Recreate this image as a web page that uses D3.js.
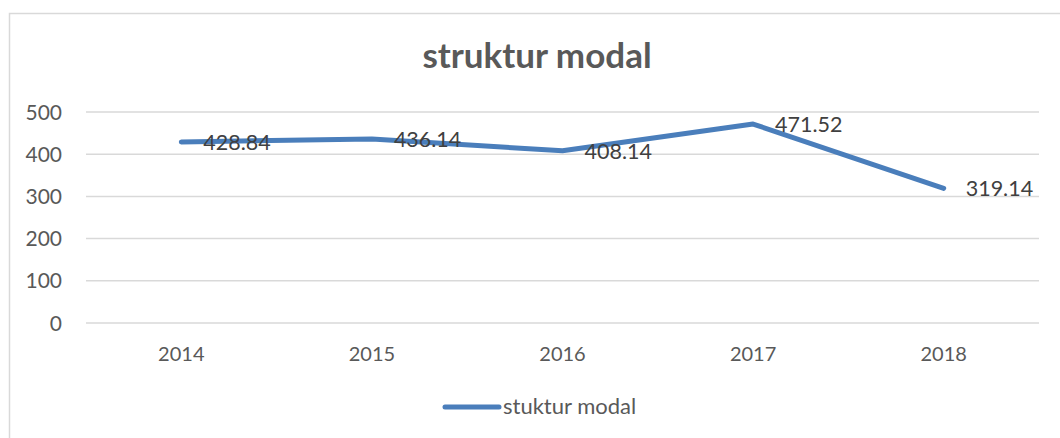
<html>
<head>
<meta charset="utf-8">
<style>
  body { margin: 0; background: #fff; }
  text { font-family: Lato, "Open Sans", sans-serif; }
</style>
</head>
<body>
<svg width="1060" height="438"></svg>
<script src="https://cdn.jsdelivr.net/npm/d3@7"></script>
<script>
const years = ["2014", "2015", "2016", "2017", "2018"]
const values = [428.84, 436.14, 408.14, 471.52, 319.14]
const yTicks = [0, 100, 200, 300, 400, 500]
const chartTitle = "struktur modal"
const seriesName = "stuktur modal"

const svg = d3.select("svg")

// chart frame (only left/top visible in the crop)
svg.append("rect").attr("x",9.5).attr("y",13.5).attr("width",1100).attr("height",500)
  .attr("fill","none").attr("stroke","#d9d9d9").attr("stroke-width",1.5)

const x = d3.scaleBand().domain(years).range([86, 1039])
const y = d3.scaleLinear().domain([0, 500]).range([323, 112])

// gridlines
svg.append("g").selectAll("line").data(yTicks).join("line")
  .attr("x1",86).attr("x2",1039)
  .attr("y1",d => y(d)).attr("y2",d => y(d))
  .attr("stroke","#d9d9d9").attr("stroke-width",1.5)

// y axis labels
svg.append("g").selectAll("text").data(yTicks).join("text")
  .attr("x",62).attr("y",d => y(d)).attr("dy","0.36em")
  .attr("text-anchor","end").attr("font-size",21).attr("fill","#595959")
  .text(d => d)

// x axis labels
svg.append("g").selectAll("text").data(years).join("text")
  .attr("x",d => x(d) + x.bandwidth()/2).attr("y",361)
  .attr("text-anchor","middle").attr("font-size",20).attr("fill","#595959")
  .text(d => d)

// title
svg.append("text").attr("x",537).attr("y",68).attr("text-anchor","middle")
  .attr("font-size",35).attr("font-weight","bold").attr("fill","#595959")
  .text(chartTitle)

const pts = years.map((yr, i) => [x(yr) + x.bandwidth()/2, y(values[i])])

svg.append("path").attr("d", d3.line()(pts))
  .attr("fill","none").attr("stroke","#4a7ebb").attr("stroke-width",5)
  .attr("stroke-linecap","round").attr("stroke-linejoin","round")

// data labels, to the right of each point
svg.append("g").selectAll("text").data(values).join("text")
  .attr("x",(d,i) => pts[i][0] + 22).attr("y",(d,i) => pts[i][1]).attr("dy","0.36em")
  .attr("font-size",21.5).attr("fill","#404040")
  .text(d => d.toFixed(2))

// legend
svg.append("line").attr("x1",445).attr("x2",499).attr("y1",407).attr("y2",407)
  .attr("stroke","#4a7ebb").attr("stroke-width",5).attr("stroke-linecap","round")
svg.append("text").attr("x",503).attr("y",414).attr("font-size",22).attr("fill","#595959")
  .text(seriesName)
</script>
</body>
</html>
